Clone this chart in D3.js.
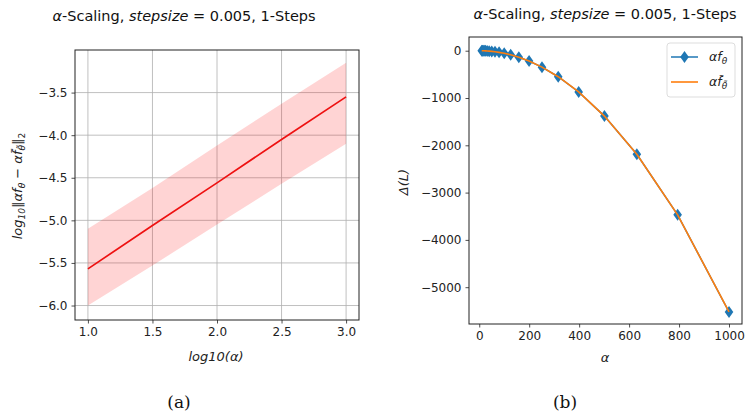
<!DOCTYPE html>
<html>
<head>
<meta charset="utf-8">
<script src="https://cdn.jsdelivr.net/npm/d3@7"></script>
<style>
  body { margin: 0; background: #fff; }
  svg text { font-family: "DejaVu Sans", sans-serif; }
</style>
</head>
<body>
<svg id="chart" width="745" height="416"></svg>
<script>
// panel (a): log10(alpha) vs log10 error, mean and band
const logAlpha = [1.0, 1.5, 2.0, 2.5, 3.0];
const errMean = [-5.57, -5.06, -4.56, -4.05, -3.55];
const errUpper = [-5.10, -4.62, -4.12, -3.63, -3.15];
const errLower = [-6.00, -5.53, -5.05, -4.57, -4.10];
const xTicksA = [1.0, 1.5, 2.0, 2.5, 3.0];
const yTicksA = [-3.5, -4.0, -4.5, -5.0, -5.5, -6.0];

// panel (b): alpha vs Delta(L)
const alphas = [10, 12.6, 15.8, 20, 25.1, 31.6, 39.8, 50.1, 63.1, 79.4, 100, 125.9, 158.5, 199.5, 251.2, 316.2, 398.1, 501.2, 631, 794.3, 1000];
const deltaF = [-1, -1, -1, -2, -3, -5, -9, -14, -22, -35, -55, -87, -138, -219, -347, -550, -872, -1382, -2190, -3470, -5524];
const deltaFTilde = [-1, -1, -1, -2, -3, -5, -9, -14, -22, -35, -55, -87, -138, -219, -347, -550, -872, -1382, -2190, -3470, -5524];
const xTicksB = [0, 200, 400, 600, 800, 1000];
const yTicksB = [0, -1000, -2000, -3000, -4000, -5000];

const svg = d3.select('#chart');
const fmtMinus = s => s.replace('-', '\u2212');

function drawTitle(cx, y) {
  const t = svg.append('text')
    .attr('x', cx).attr('y', y)
    .attr('text-anchor', 'middle')
    .style('font-size', '14.5px')
    .attr('fill', '#111');
  t.append('tspan').style('font-style', 'italic').text('\u03b1');
  t.append('tspan').text('-Scaling, ');
  t.append('tspan').style('font-style', 'italic').text('stepsize');
  t.append('tspan').text(' = 0.005, 1-Steps');
}

function frame(g, w, h) {
  g.append('rect')
    .attr('width', w).attr('height', h)
    .attr('fill', 'none').attr('stroke', '#222').attr('stroke-width', 1);
}

function styleAxis(ax) {
  ax.select('.domain').remove();
  ax.selectAll('.tick line').attr('stroke', '#222').attr('stroke-width', 0.8);
  ax.selectAll('.tick text').style('font-size', '12px').attr('fill', '#222');
}

// ---------- panel (a) ----------
const A = { left: 75, top: 50, width: 284, height: 270 };
const xA = d3.scaleLinear().domain([0.9, 3.1]).range([0, A.width]);
const yA = d3.scaleLinear().domain([-6.17, -3.0]).range([A.height, 0]);
const gA = svg.append('g').attr('transform', `translate(${A.left},${A.top})`);

// grid
gA.append('g').selectAll('line').data(xTicksA).join('line')
  .attr('x1', d => xA(d)).attr('x2', d => xA(d))
  .attr('y1', 0).attr('y2', A.height)
  .attr('stroke', '#b0b0b0').attr('stroke-width', 0.8);
gA.append('g').selectAll('line').data(yTicksA).join('line')
  .attr('x1', 0).attr('x2', A.width)
  .attr('y1', d => yA(d)).attr('y2', d => yA(d))
  .attr('stroke', '#b0b0b0').attr('stroke-width', 0.8);

const bandData = logAlpha.map((x, i) => ({ x, lo: errLower[i], hi: errUpper[i], m: errMean[i] }));
gA.append('path').datum(bandData)
  .attr('d', d3.area().x(d => xA(d.x)).y0(d => yA(d.lo)).y1(d => yA(d.hi)))
  .attr('fill', '#ff0000').attr('fill-opacity', 0.17);
gA.append('path').datum(bandData)
  .attr('d', d3.line().x(d => xA(d.x)).y(d => yA(d.m)))
  .attr('fill', 'none').attr('stroke', '#ee1111').attr('stroke-width', 1.7);

const axXA = gA.append('g').attr('transform', `translate(0,${A.height})`)
  .call(d3.axisBottom(xA).tickValues(xTicksA).tickFormat(d3.format('.1f')).tickSize(3.5).tickPadding(4));
styleAxis(axXA);
const axYA = gA.append('g')
  .call(d3.axisLeft(yA).tickValues(yTicksA).tickFormat(d => fmtMinus(d3.format('.1f')(d))).tickSize(3.5).tickPadding(4));
styleAxis(axYA);
frame(gA, A.width, A.height);

drawTitle(184, 21);

// x label
svg.append('text').attr('x', 216).attr('y', 361)
  .attr('text-anchor', 'middle').style('font-size', '13px').style('font-style', 'italic')
  .attr('fill', '#222').text('log10(\u03b1)');

// y label
const ylA = svg.append('text')
  .attr('transform', 'translate(22,186) rotate(-90)')
  .attr('text-anchor', 'middle').style('font-size', '13px').style('font-style', 'italic')
  .attr('fill', '#222');
ylA.append('tspan').text('log');
ylA.append('tspan').attr('baseline-shift', '-3').style('font-size', '9px').text('10');
ylA.append('tspan').attr('baseline-shift', '0').text('\u2016\u03b1f');
ylA.append('tspan').attr('baseline-shift', '-3').style('font-size', '9px').text('\u03b8');
ylA.append('tspan').attr('baseline-shift', '0').text(' \u2212 \u03b1f\u0303');
ylA.append('tspan').attr('baseline-shift', '-3').style('font-size', '9px').text('\u03b8\u0303');
ylA.append('tspan').attr('baseline-shift', '0').style('font-style', 'normal').text('\u2016');
ylA.append('tspan').attr('baseline-shift', '-3').style('font-size', '9px').style('font-style', 'normal').text('2');

svg.append('text').attr('x', 179).attr('y', 408).attr('text-anchor', 'middle')
  .style('font-family', '"DejaVu Serif", "Liberation Serif", serif').style('font-size', '17px')
  .attr('fill', '#111').text('(a)');

// ---------- panel (b) ----------
const B = { left: 469, top: 37, width: 273, height: 287 };
const xB = d3.scaleLinear().domain([-41, 1052]).range([0, B.width]);
const yB = d3.scaleLinear().domain([-5778, 290]).range([B.height, 0]);
const gB = svg.append('g').attr('transform', `translate(${B.left},${B.top})`);

const ptsF = alphas.map((a, i) => ({ a, v: deltaF[i] }));
const ptsT = alphas.map((a, i) => ({ a, v: deltaFTilde[i] }));
const lineB = d3.line().x(d => xB(d.a)).y(d => yB(d.v));

gB.append('path').datum(ptsF).attr('d', lineB)
  .attr('fill', 'none').attr('stroke', '#1f77b4').attr('stroke-width', 1.5);
const diamond = 'M0,-6L4.3,0L0,6L-4.3,0Z';
gB.append('g').selectAll('path').data(ptsF).join('path')
  .attr('transform', d => `translate(${xB(d.a)},${yB(d.v)})`)
  .attr('d', diamond).attr('fill', '#1f77b4');
gB.append('path').datum(ptsT).attr('d', lineB)
  .attr('fill', 'none').attr('stroke', '#ff7f0e').attr('stroke-width', 1.6);

const axXB = gB.append('g').attr('transform', `translate(0,${B.height})`)
  .call(d3.axisBottom(xB).tickValues(xTicksB).tickFormat(d3.format('d')).tickSize(3.5).tickPadding(4));
styleAxis(axXB);
const axYB = gB.append('g')
  .call(d3.axisLeft(yB).tickValues(yTicksB).tickFormat(d => fmtMinus(String(d))).tickSize(3.5).tickPadding(4));
styleAxis(axYB);
frame(gB, B.width, B.height);

// legend
const leg = svg.append('g').attr('transform', 'translate(667,43)');
leg.append('rect').attr('width', 68).attr('height', 54).attr('rx', 3)
  .attr('fill', '#fff').attr('fill-opacity', 0.8).attr('stroke', '#ddd');
leg.append('line').attr('x1', 4).attr('x2', 31).attr('y1', 14).attr('y2', 14)
  .attr('stroke', '#1f77b4').attr('stroke-width', 1.5);
leg.append('path').attr('transform', 'translate(17.5,14)').attr('d', diamond).attr('fill', '#1f77b4');
leg.append('line').attr('x1', 4).attr('x2', 31).attr('y1', 39).attr('y2', 39)
  .attr('stroke', '#ff7f0e').attr('stroke-width', 1.6);
const l1 = leg.append('text').attr('x', 42).attr('y', 18).style('font-size', '12.5px').style('font-style', 'italic').attr('fill', '#222');
l1.append('tspan').text('\u03b1f');
l1.append('tspan').attr('baseline-shift', '-3').style('font-size', '9px').text('\u03b8');
const l2 = leg.append('text').attr('x', 42).attr('y', 43).style('font-size', '12.5px').style('font-style', 'italic').attr('fill', '#222');
l2.append('tspan').text('\u03b1f\u0303');
l2.append('tspan').attr('baseline-shift', '-3').style('font-size', '9px').text('\u03b8\u0303');

drawTitle(605, 19);

svg.append('text').attr('x', 605).attr('y', 362).attr('text-anchor', 'middle')
  .style('font-size', '13px').style('font-style', 'italic').attr('fill', '#222').text('\u03b1');
svg.append('text')
  .attr('transform', 'translate(408,182) rotate(-90)')
  .attr('text-anchor', 'middle').style('font-size', '13px').style('font-style', 'italic')
  .attr('fill', '#222').text('\u0394(L)');

svg.append('text').attr('x', 565).attr('y', 408).attr('text-anchor', 'middle')
  .style('font-family', '"DejaVu Serif", "Liberation Serif", serif').style('font-size', '17px')
  .attr('fill', '#111').text('(b)');
</script>
</body>
</html>
